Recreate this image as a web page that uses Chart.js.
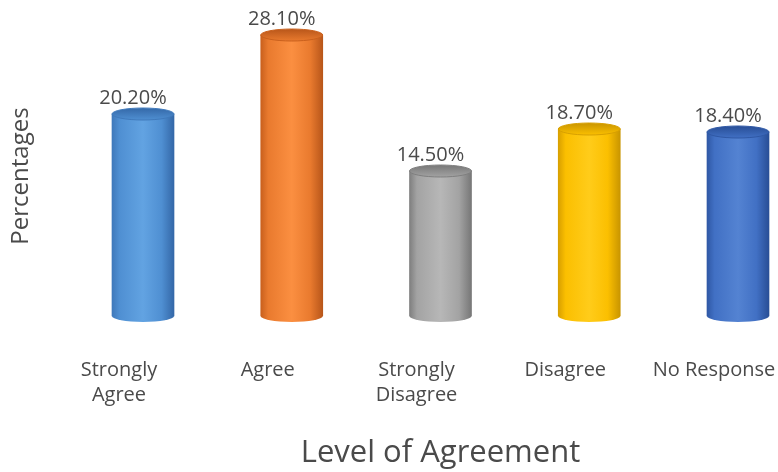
<!DOCTYPE html>
<html>
<head>
<meta charset="utf-8">
<script src="https://cdn.jsdelivr.net/npm/chart.js@4.4.1/dist/chart.umd.min.js"></script>
<style>
  html, body { margin: 0; padding: 0; background: #fff; }
</style>
</head>
<body>
<canvas id="agreementChart" width="778" height="472"></canvas>
<script>
const categories = [['Strongly', 'Agree'], 'Agree', ['Strongly', 'Disagree'], 'Disagree', 'No Response'];
const percentages = [20.2, 28.1, 14.5, 18.7, 18.4];

// cylinder shading: edge / face / highlight / dark side
const palette = [
  { edge: '#3f79bb', face: '#4f8fd2', light: '#62a3e2', dark: '#3468a8' },
  { edge: '#c9601d', face: '#e97a2e', light: '#fb8f41', dark: '#b8561a' },
  { edge: '#7f7f7f', face: '#a3a3a3', light: '#b7b7b7', dark: '#777777' },
  { edge: '#d8a000', face: '#fbbf00', light: '#ffcc1a', dark: '#c99500' },
  { edge: '#2f58a5', face: '#4170c4', light: '#5483d2', dark: '#284e96' }
];
const TEXT = '#4a4a4a';
const CAP_RY = 6;

function bodyGradient(ctx, x, w, c) {
  const g = ctx.createLinearGradient(x - w / 2, 0, x + w / 2, 0);
  g.addColorStop(0, c.edge);
  g.addColorStop(0.12, c.face);
  g.addColorStop(0.5, c.light);
  g.addColorStop(0.8, c.face);
  g.addColorStop(1, c.dark);
  return g;
}

// round caps + value labels on top of each bar
const cylinderCaps = {
  id: 'cylinderCaps',
  afterDatasetsDraw(chart) {
    const ctx = chart.ctx;
    const meta = chart.getDatasetMeta(0);
    meta.data.forEach((bar, i) => {
      const c = palette[i];
      const { x, y, base, width } = bar.getProps(['x', 'y', 'base', 'width'], true);
      const rx = width / 2;
      ctx.save();
      // bottom rim
      ctx.beginPath();
      ctx.ellipse(x, base, rx, CAP_RY, 0, 0, Math.PI);
      ctx.fillStyle = bodyGradient(ctx, x, width, c);
      ctx.fill();
      // top face
      ctx.beginPath();
      ctx.ellipse(x, y, rx, CAP_RY, 0, 0, Math.PI * 2);
      const tg = ctx.createLinearGradient(x, y - CAP_RY, x, y + CAP_RY);
      tg.addColorStop(0, c.dark);
      tg.addColorStop(1, c.face);
      ctx.fillStyle = tg;
      ctx.fill();
      ctx.lineWidth = 1;
      ctx.strokeStyle = c.edge;
      ctx.stroke();
      // label
      ctx.fillStyle = TEXT;
      ctx.font = '20px "Open Sans"';
      ctx.textAlign = 'center';
      ctx.textBaseline = 'middle';
      ctx.fillText(percentages[i].toFixed(2) + '%', x - 10, y - 16);
      ctx.restore();
    });
  }
};

new Chart(document.getElementById('agreementChart'), {
  type: 'bar',
  data: {
    labels: categories,
    datasets: [{
      data: percentages,
      clip: false,
      barThickness: 62,
      borderWidth: 0,
      backgroundColor: (ctx) => {
        const c = palette[ctx.dataIndex];
        const xs = ctx.chart.scales.x;
        if (!c) return '#999';
        if (!xs || !ctx.chart.chartArea) return c.face;
        return bodyGradient(ctx.chart.ctx, xs.getPixelForValue(ctx.dataIndex), 62, c);
      }
    }]
  },
  options: {
    responsive: false,
    devicePixelRatio: 1,
    animation: false,
    layout: { padding: { top: 6, right: 40, bottom: 0, left: 0 } },
    plugins: {
      legend: { display: false },
      tooltip: { enabled: false }
    },
    scales: {
      x: {
        offset: false,
        grid: { display: false },
        border: { display: false },
        ticks: {
          color: TEXT,
          autoSkip: false,
          maxRotation: 0,
          padding: 4,
          labelOffset: -24,
          font: { family: 'Open Sans', size: 20, lineHeight: 1.25 }
        },
        title: {
          display: true,
          text: 'Level of Agreement',
          color: TEXT,
          font: { family: 'Open Sans', size: 31 },
          padding: { top: 0, bottom: 0 }
        },
        afterFit(scale) {
          scale.height = 126;
          scale.paddingLeft = 0;
          scale.paddingRight = 0;
        }
      },
      y: {
        min: -3,
        max: 31,
        grid: { display: false },
        border: { display: false },
        ticks: { display: false },
        title: {
          display: true,
          text: 'Percentages',
          color: TEXT,
          font: { family: 'Open Sans', size: 24 },
          padding: { top: 7, bottom: 0 }
        },
        afterFit(scale) {
          scale.width = 143;
        }
      }
    }
  },
  plugins: [cylinderCaps]
});
</script>
</body>
</html>
